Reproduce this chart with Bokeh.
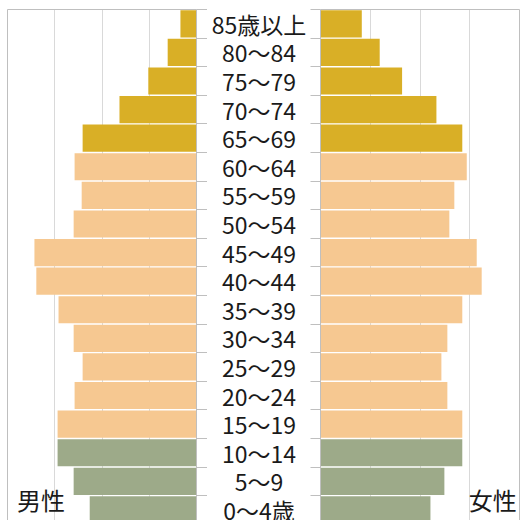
import numpy as np
from bokeh.plotting import figure
from bokeh.layouts import row
from bokeh.models import (Range1d, FixedTicker, LinearAxis, Label, Grid,
                          ColumnDataSource)
from bokeh.embed import file_html
from bokeh.resources import INLINE
from bokeh.core.properties import value

# Age bands, listed from the top of the pyramid down
age_groups = ["85歳以上", "80～84", "75～79", "70～74", "65～69", "60～64",
              "55～59", "50～54", "45～49", "40～44", "35～39", "30～34",
              "25～29", "20～24", "15～19", "10～14", "5～9", "0～4歳"]
male = [0.34, 0.61, 1.02, 1.63, 2.41, 2.58, 2.43, 2.60, 3.43, 3.39,
        2.92, 2.60, 2.41, 2.58, 2.94, 2.94, 2.60, 2.26]
female = [0.83, 1.19, 1.64, 2.33, 2.85, 2.94, 2.69, 2.59, 3.14, 3.24,
          2.85, 2.55, 2.43, 2.55, 2.85, 2.85, 2.49, 2.21]
group = ["old"] * 5 + ["working"] * 10 + ["young"] * 3

group_colors = {"old": "#D9AF26", "working": "#F6C891", "young": "#9DAA89"}
BORDER = "#BFBFBF"
GRID = "#D9D9D9"
FONT = "Noto Sans CJK JP"

n = len(age_groups)
ypos = [n - i - 0.5 for i in range(n)]
src = ColumnDataSource(dict(age=age_groups, y=ypos, male=male, female=female,
                            color=[group_colors[g] for g in group]))

Y_RANGE = (0.13, n)
X_MAX = 4


def line_axis(ticks=(), tick_out=0):
    # axis used only for its line (and optional outward ticks), no labels
    ax = LinearAxis(ticker=FixedTicker(ticks=list(ticks)))
    ax.major_label_text_font_size = "0px"
    ax.major_label_text_color = None
    ax.major_label_standoff = 0
    ax.minor_tick_line_color = None
    ax.minor_tick_out = 0
    ax.minor_tick_in = 0
    ax.major_tick_in = 0
    ax.major_tick_out = tick_out
    ax.axis_line_color = BORDER
    ax.major_tick_line_color = BORDER
    return ax


def panel(width, x_range, **borders):
    p = figure(width=width, height=520, x_range=x_range,
               y_range=Range1d(*Y_RANGE), output_backend="svg",
               toolbar_location=None, x_axis_location=None,
               y_axis_location=None, outline_line_color=None,
               min_border_top=9, min_border_bottom=0, **borders)
    p.grid.visible = False
    return p


boundaries = list(range(1, n + 1))

# Male side: bars grow leftwards from the centre
left = panel(207, Range1d(X_MAX, 0), min_border_left=7, min_border_right=11)
left.add_layout(Grid(dimension=0, ticker=FixedTicker(ticks=[1, 2, 3]),
                     grid_line_color=GRID))
left.hbar(y="y", left=0, right="male", height=0.95, fill_color="color",
          line_color=None, source=src)
left.add_layout(line_axis(), "left")
left.add_layout(line_axis(), "above")
left.add_layout(line_axis(boundaries, 11), "right")
left.add_layout(Label(x=3.8, y=0.88, text="男性", text_align="left",
                      text_baseline="middle", text_font=FONT,
                      text_font_size="24px", text_color="#1a1a1a"))

# Centre column with the age band names
mid = panel(103, Range1d(0, 1), min_border_left=0, min_border_right=0)
mid.text(x=0.5, y="y", text="age", source=src, text_align="center",
         text_baseline="middle", text_font=value(FONT),
         text_font_size="23px", text_color="#1a1a1a")

# Female side
right = panel(211, Range1d(0, X_MAX), min_border_left=10, min_border_right=2)
right.add_layout(Grid(dimension=0, ticker=FixedTicker(ticks=[1, 2, 3]),
                      grid_line_color=GRID))
right.hbar(y="y", left=0, right="female", height=0.95, fill_color="color",
           line_color=None, source=src)
right.add_layout(line_axis(boundaries, 10), "left")
right.add_layout(line_axis(), "above")
right.add_layout(line_axis(), "right")
right.add_layout(Label(x=2.98, y=0.88, text="女性", text_align="left",
                       text_baseline="middle", text_font=FONT,
                       text_font_size="24px", text_color="#1a1a1a"))

layout = row(left, mid, right, spacing=0)
open("out.html", "w").write(file_html(layout, INLINE))
